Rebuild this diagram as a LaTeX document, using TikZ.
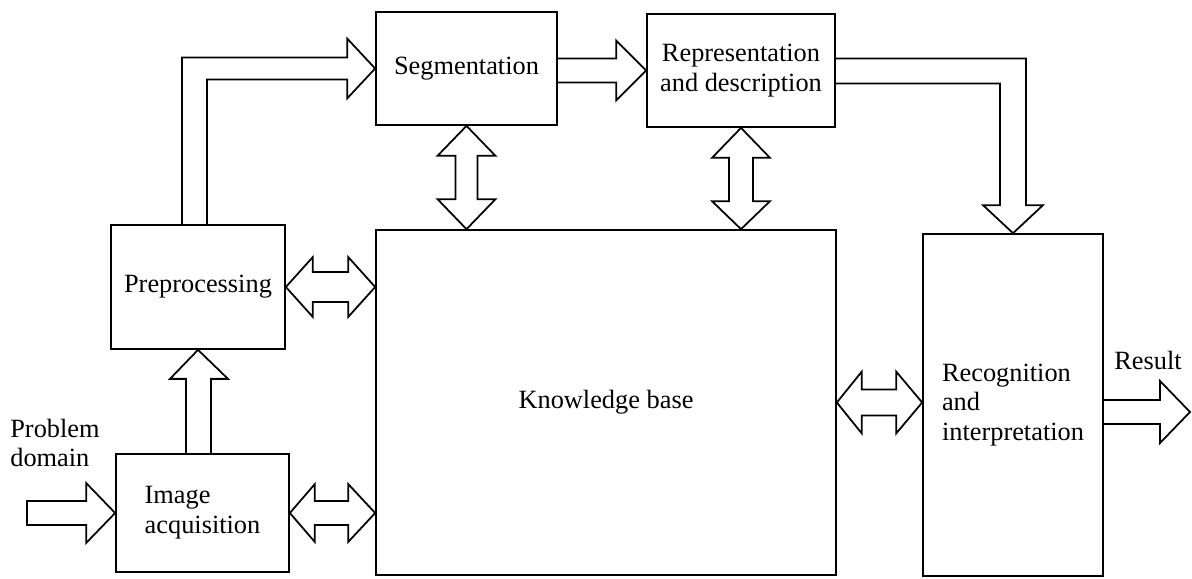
\documentclass[tikz,border=0pt]{standalone}
\usepackage{fontspec}
\setmainfont{Liberation Serif}
\usetikzlibrary{calc}

\begin{document}
\begin{tikzpicture}[x=0.02cm, y=-0.02cm,
    box/.style={draw, line width=1pt, inner sep=0pt, align=center},
    blk/.style={draw, line width=1pt, line join=miter},
    every node/.style={font=\fontsize{15}{17}\selectfont}]

    \useasboundingbox (0,0) rectangle (1192,578);

    % boxes
    \node[box, minimum width=3.62cm, minimum height=2.26cm] (seg) at (466.5,68.5) {Segmentation};
    \node[box, minimum width=3.76cm, minimum height=2.26cm] (rep) at (741,70.5) {Representation\\and description};
    \node[box, minimum width=3.48cm, minimum height=2.48cm] (prep) at (198,287) {Preprocessing};
    \node[box, minimum width=3.46cm, minimum height=2.36cm, align=left] (ia) at (202.5,513) {Image\\acquisition};
    \node[box, minimum width=9.2cm, minimum height=6.9cm] (kb) at (606,402.5) {Knowledge base};
    \node[box, minimum width=3.6cm, minimum height=6.84cm, align=left] (rec) at (1013,405) {Recognition\\and\\interpretation};

    \node[align=left] (pd) at (55,443) {Problem\\domain};
    \node (res) at (1148,360) {Result};

    \coordinate (src) at (27,513);
    \coordinate (out) at (1190,412);

    % preprocessing -> segmentation
    \draw[blk] ($(prep.north)+(-16,0)$) |- ($(seg.west)+(-28,-11)$) -- ++(0,-19) -- (seg.west)
        -- ($(seg.west)+(-28,30)$) -- ++(0,-19) -| ($(prep.north)+(9,0)$);

    % segmentation -> representation
    \draw[blk] ($(seg.east|-rep.west)+(0,-12)$) -- ($(rep.west)+(-30,-12)$) -- ++(0,-18) -- (rep.west)
        -- ($(rep.west)+(-30,30)$) -- ++(0,-18) -- ($(seg.east|-rep.west)+(0,12)$);

    % representation -> recognition
    \draw[blk] ($(rep.east)+(0,-12)$) -| ($(rec.north)+(13,-28)$) -- ++(17,0) -- (rec.north)
        -- ($(rec.north)+(-30,-28)$) -- ++(17,0) |- ($(rep.east)+(0,13)$);

    % segmentation <-> knowledge base
    \draw[blk] (seg.south) -- ++(29,30) -- ++(-18,0) -- ($(seg.south|-kb.north)+(11,-30)$) -- ++(18,0)
        -- (seg.south|-kb.north) -- ++(-29,-30) -- ++(18,0) -- ($(seg.south)+(-11,30)$) -- ++(-18,0) -- cycle;

    % representation <-> knowledge base
    \draw[blk] (rep.south) -- ++(29,30) -- ++(-17,0) -- ($(rep.south|-kb.north)+(12,-28)$) -- ++(17,0)
        -- (rep.south|-kb.north) -- ++(-29,-28) -- ++(17,0) -- ($(rep.south)+(-12,30)$) -- ++(-17,0) -- cycle;

    % preprocessing <-> knowledge base
    \draw[blk] (prep.east) -- ++(27,-30) -- ++(0,15) -- ($(kb.west|-prep.east)+(-27,-15)$) -- ++(0,-15)
        -- (kb.west|-prep.east) -- ++(-27,30) -- ++(0,-15) -- ($(prep.east)+(27,15)$) -- ++(0,15) -- cycle;

    % image acquisition <-> knowledge base
    \draw[blk] (ia.east) -- ++(25,-29) -- ++(0,17) -- ($(kb.west|-ia.east)+(-27,-12)$) -- ++(0,-17)
        -- (kb.west|-ia.east) -- ++(-27,29) -- ++(0,-17) -- ($(ia.east)+(25,12)$) -- ++(0,17) -- cycle;

    % knowledge base <-> recognition
    \draw[blk] (kb.east) -- ++(25,-31) -- ++(0,18) -- ($(rec.west|-kb.east)+(-26,-13)$) -- ++(0,-18)
        -- (rec.west|-kb.east) -- ++(-26,31) -- ++(0,-18) -- ($(kb.east)+(25,13)$) -- ++(0,18) -- cycle;

    % image acquisition -> preprocessing
    \draw[blk] ($(prep.south|-ia.north)+(-12,0)$) -- ($(prep.south)+(-12,29)$) -- ++(-16,0) -- (prep.south)
        -- ($(prep.south)+(30,29)$) -- ++(-17,0) -- ($(prep.south|-ia.north)+(13,0)$);

    % problem domain -> image acquisition
    \draw[blk] ($(src)+(0,-12)$) -- ($(ia.west)+(-29,-12)$) -- ++(0,-18) -- (ia.west)
        -- ($(ia.west)+(-29,30)$) -- ++(0,-18) -- ($(src)+(0,12)$) -- cycle;

    % recognition -> result
    \draw[blk] ($(rec.east|-out)+(0,-12)$) -- ($(out)+(-30,-12)$) -- ++(0,-19) -- (out)
        -- ($(out)+(-30,31)$) -- ++(0,-19) -- ($(rec.east|-out)+(0,12)$);

\end{tikzpicture}
\end{document}
